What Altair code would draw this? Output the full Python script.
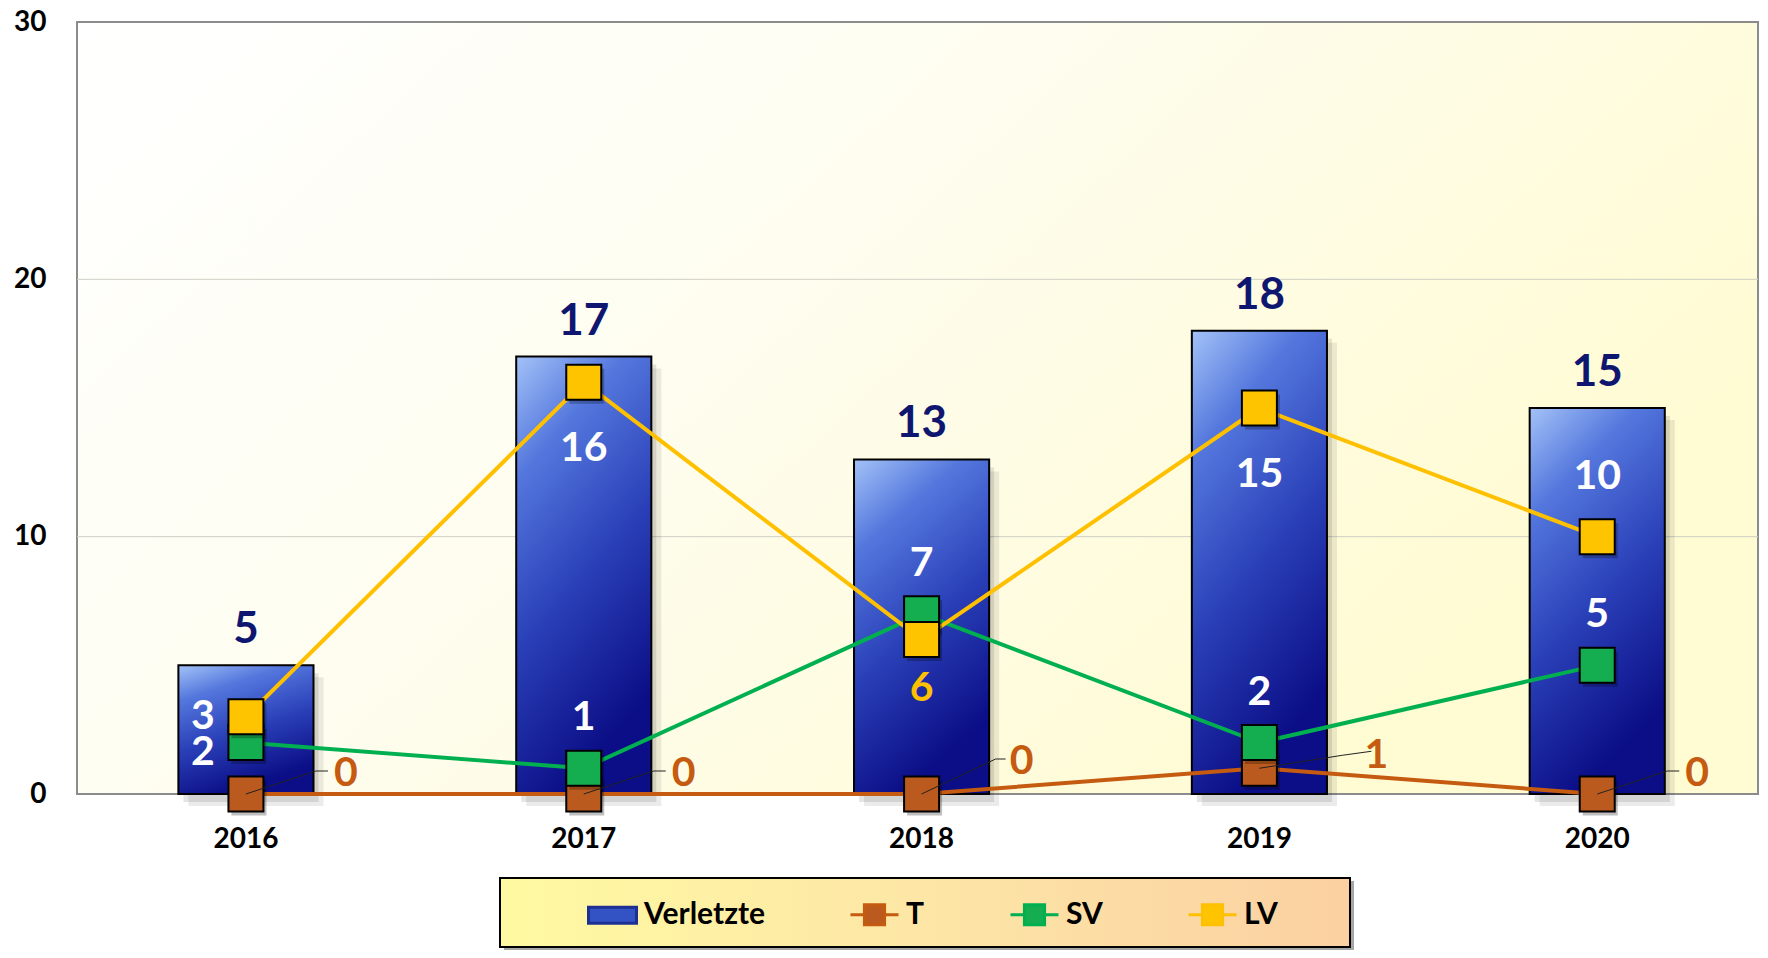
import altair as alt
import pandas as pd

# ---------------- data ----------------
years = ["2016", "2017", "2018", "2019", "2020"]
verletzte = [5, 17, 13, 18, 15]
t_vals = [0, 0, 0, 1, 0]
sv_vals = [2, 1, 7, 2, 5]
lv_vals = [3, 16, 6, 15, 10]
series_names = ["Verletzte", "T", "SV", "LV"]
y_ticks = [0, 10, 20, 30]
grid_vals = [10, 20]

# ---------------- styles ----------------
W, H = 1681, 772
FONT = "Lato"
C_T, C_SV, C_LV = "#c55a11", "#00b050", "#ffc000"
M_T, M_SV, M_LV = "#bb5a1e", "#14ad50", "#ffc400"
NAVY = "#0f1670"

df = pd.DataFrame({"Jahr": years, "Verletzte": verletzte, "T": t_vals,
                   "SV": sv_vals, "LV": lv_vals})
base = alt.Chart(df)

x_enc = alt.X("Jahr:N", sort=years,
              scale=alt.Scale(paddingInner=0.6, paddingOuter=0.288, align=0.521),
              axis=alt.Axis(title=None, labelAngle=0, domain=False, ticks=False,
                            tickSize=0, labelPadding=31, labelFont=FONT,
                            labelFontSize=28, labelFontWeight="bold",
                            labelColor="#000000", grid=False))
y_scale = alt.Scale(domain=[0, 30], nice=False, zero=True)
y_axis = alt.Axis(title=None, values=y_ticks, domain=False, ticks=False, tickSize=0,
                  grid=False, labelPadding=31, labelFont=FONT, labelFontSize=28,
                  labelFontWeight="bold", labelColor="#000000")


def Y(field):
    return alt.Y(f"{field}:Q", scale=y_scale, axis=y_axis)


one = pd.DataFrame({"a": [0]})

# background of plot area
bg = alt.Chart(one).mark_rect(
    fill=alt.LinearGradient(gradient="linear",
                            stops=[alt.GradientStop(color="#ffffff", offset=0),
                                   alt.GradientStop(color="#fefdf0", offset=0.45),
                                   alt.GradientStop(color="#fffbd2", offset=1)],
                            x1=0, y1=0, x2=1, y2=0.5),
    stroke="#8c8c8c", strokeWidth=2
).encode(x=alt.value(0), x2=alt.value(W), y=alt.value(0), y2=alt.value(H))

grid = alt.Chart(pd.DataFrame({"v": grid_vals})).mark_rule(
    color="#cfcfc4", strokeWidth=1).encode(y=Y("v"))

bar_grad = alt.LinearGradient(
    gradient="linear",
    stops=[alt.GradientStop(color="#a3c2f7", offset=0),
           alt.GradientStop(color="#5477dd", offset=0.25),
           alt.GradientStop(color="#2a40b8", offset=0.6),
           alt.GradientStop(color="#0b0e86", offset=1)],
    x1=0, y1=0, x2=0.35, y2=1)

shadow1 = base.mark_bar(color="#000000", opacity=0.10, xOffset=5, yOffset=8,
                        y2Offset=0).encode(x=x_enc, y=Y("Verletzte"))
shadow2 = base.mark_bar(color="#000000", opacity=0.08, xOffset=10, yOffset=12,
                        y2Offset=0).encode(x=x_enc, y=Y("Verletzte"))
bars = base.mark_bar(fill=bar_grad, stroke="#000000", strokeWidth=2).encode(
    x=x_enc, y=Y("Verletzte"))
bar_labels = base.mark_text(font=FONT, fontWeight="bold", fontSize=44, color=NAVY,
                            baseline="alphabetic", dy=-22).encode(
    x=x_enc, y=Y("Verletzte"), text="Verletzte:Q")


def line(field, color):
    return base.mark_line(color=color, strokeWidth=4).encode(x=x_enc, y=Y(field))


def mshadow(field):
    return base.mark_point(shape="square", filled=True, color="#000000", opacity=0.25,
                           size=1225, xOffset=3, yOffset=4).encode(x=x_enc, y=Y(field))


def marker(field, color):
    return base.mark_point(shape="square", filled=True, fill=color, stroke="#000000",
                           strokeWidth=2, size=1225, opacity=1).encode(x=x_enc, y=Y(field))


def labels(field, yrs, color, dx, dy, size=41):
    return base.transform_filter(
        alt.FieldOneOfPredicate(field="Jahr", oneOf=yrs)
    ).mark_text(font=FONT, fontWeight="bold", fontSize=size, color=color, dx=dx, dy=dy,
                baseline="middle", align="center").encode(
        x=x_enc, y=Y(field), text=f"{field}:Q")


def leader(yrs, path):
    return base.transform_filter(
        alt.FieldOneOfPredicate(field="Jahr", oneOf=yrs)
    ).mark_point(shape=path, filled=False, stroke="#222222", strokeWidth=1,
                 size=10000, opacity=1).encode(x=x_enc, y=Y("T"))


# legend box (decoration)
legend_shadow = alt.Chart(one).mark_rect(color="#000000", opacity=0.35).encode(
    x=alt.value(427), x2=alt.value(1277), y=alt.value(859), y2=alt.value(928))
legend_box = alt.Chart(one).mark_rect(
    fill=alt.LinearGradient(gradient="linear",
                            stops=[alt.GradientStop(color="#fffaa2", offset=0),
                                   alt.GradientStop(color="#fde6a6", offset=0.5),
                                   alt.GradientStop(color="#fbd0a2", offset=1)],
                            x1=0, y1=0, x2=1, y2=0),
    stroke="#000000", strokeWidth=2
).encode(x=alt.value(423), x2=alt.value(1273), y=alt.value(856), y2=alt.value(925))

leg_fill = ["#3352c4", M_T, M_SV, M_LV]
leg_stroke = ["#1c2f92", C_T, C_SV, C_LV]
bar_path = "M-1,-0.33H1V0.33H-1Z"
line_path = "M-1,0H-0.42M0.42,0H1M-0.42,-0.42H0.42V0.42H-0.42Z"
leg_paths = [bar_path, line_path, line_path, line_path]

legend = alt.Legend(title=None, orient="none", legendX=510, legendY=867,
                    direction="horizontal", columns=4, columnPadding=79,
                    symbolSize=2304, symbolStrokeWidth=3, symbolOpacity=1,
                    labelFont=FONT, labelFontSize=30, labelFontWeight="bold",
                    labelColor="#000000", labelOffset=6, padding=0, labelLimit=400)

leg_df = pd.DataFrame({"series": series_names})
legend_gen = alt.Chart(leg_df).mark_point(filled=True, size=0, strokeWidth=3).encode(
    color=alt.Color("series:N", sort=series_names,
                    scale=alt.Scale(domain=series_names, range=leg_fill), legend=legend),
    stroke=alt.Stroke("series:N", sort=series_names,
                      scale=alt.Scale(domain=series_names, range=leg_stroke), legend=legend),
    shape=alt.Shape("series:N", sort=series_names,
                    scale=alt.Scale(domain=series_names, range=leg_paths), legend=legend),
)

layers = [
    bg, grid, shadow2, shadow1, bars, bar_labels,
    line("T", C_T), line("SV", C_SV), line("LV", C_LV),
    mshadow("T"), marker("T", M_T),
    mshadow("SV"), marker("SV", M_SV),
    mshadow("LV"), marker("LV", M_LV),
    leader(["2016", "2017", "2020"], "M0,0L1.4,-0.46L1.64,-0.46"),
    leader(["2018"], "M0,0L1.48,-0.7L1.68,-0.7"),
    leader(["2019"], "M0,0L1.66,-0.26L2.24,-0.34"),
    # LV labels
    labels("LV", ["2017", "2019"], "#ffffff", 0, 67),
    labels("LV", ["2018"], C_LV, 0, 49),
    labels("LV", ["2020"], "#ffffff", 0, -60),
    labels("LV", ["2016"], "#ffffff", -43, 0),
    # SV labels
    labels("SV", ["2017", "2018", "2019", "2020"], "#ffffff", 0, -50),
    labels("SV", ["2016"], "#ffffff", -43, 10),
    # T labels
    labels("T", ["2016", "2017", "2020"], C_T, 100, -20),
    labels("T", ["2018"], C_T, 100, -32),
    labels("T", ["2019"], C_T, 117, -12),
    legend_shadow, legend_box, legend_gen,
]

chart = alt.layer(*layers).properties(
    width=W, height=H,
    padding={"left": 5, "top": 0, "right": 0, "bottom": 0},
).configure_view(stroke=None).configure(background="#ffffff")

chart.save("out.html", embed_options={"renderer": "svg", "actions": False})
